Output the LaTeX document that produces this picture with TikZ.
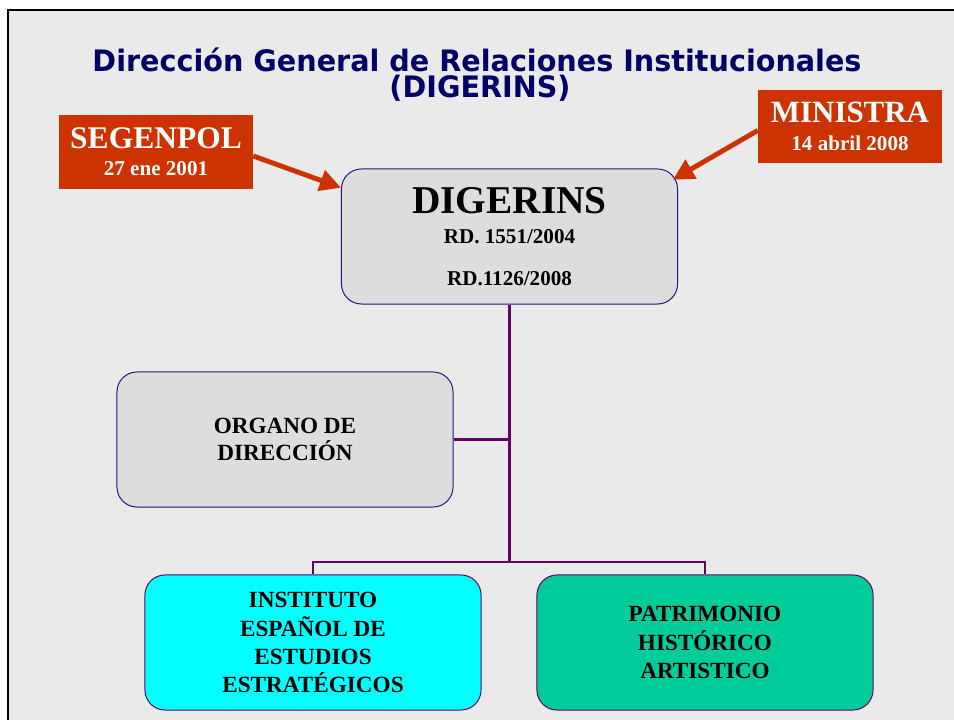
\documentclass[tikz,border=0pt]{standalone}
\usepackage{fontspec}
\setmainfont{Liberation Serif}
\newfontfamily\titlefont[FakeStretch=0.97]{DejaVu Sans}
\usetikzlibrary{positioning,arrows.meta}

\definecolor{slidegray}{HTML}{EAEAEA}
\definecolor{boxgray}{HTML}{DDDDDD}
\definecolor{navy}{HTML}{000066}
\definecolor{edgenavy}{HTML}{1A1A80}
\definecolor{brick}{HTML}{CC3300}
\definecolor{plum}{HTML}{660066}
\definecolor{aqua}{HTML}{00FFFF}
\definecolor{jade}{HTML}{00CC99}

\tikzset{
  unitbox/.style={rectangle, rounded corners=0.5cm, minimum width=8.4cm,
    minimum height=3.375cm, inner sep=0pt, align=center, font=\bfseries},
  graybox/.style={unitbox, fill=boxgray, draw=edgenavy, line width=0.7pt},
  colorbox/.style={unitbox, draw=plum, line width=0.7pt},
  datebox/.style={rectangle, fill=brick, text=white, inner sep=0pt,
    align=center},
  heading/.style={anchor=base, text=navy, inner sep=0pt,
    font=\titlefont\bfseries\fontsize{21}{22}\selectfont},
  conn/.style={plum, line width=2.1pt},
  pointer/.style={brick, line width=3.5pt,
    -{Triangle[length=15pt,width=15pt]}}
}

\begin{document}
\begin{tikzpicture}[x=0.025cm,y=-0.025cm]
\useasboundingbox (0,0) rectangle (954,720);
%slide background
\fill[slidegray] (8,10) rectangle (954,720);
\draw[line width=2.1pt] (8,720) -- (8,10) -- (954,10);

%title
\node[heading] (title) at (477,71.5) {Dirección General de Relaciones Institucionales};
\node[heading] (titlesub) at (480,98) {(DIGERINS)};

%main boxes
\node[graybox, font=\bfseries\fontsize{15}{21.3}\selectfont] (digerins) at (509.5,236.5)
  {{\fontsize{28}{30}\selectfont DIGERINS}\\RD. 1551/2004\\[8.6pt]RD.1126/2008};
\node[graybox, font=\bfseries\fontsize{16.5}{19}\selectfont] (organo) at (285,439.5)
  {ORGANO DE\\DIRECCIÓN};
\node[colorbox, fill=aqua, font=\bfseries\fontsize{16.5}{20}\selectfont] (instituto) at (313,642.5)
  {INSTITUTO\\ESPAÑOL DE\\ESTUDIOS\\ESTRATÉGICOS};
\node[colorbox, fill=jade, font=\bfseries\fontsize{16.5}{20}\selectfont] (patrimonio) at (705,642.5)
  {PATRIMONIO\\HISTÓRICO\\ARTISTICO};

%dates
\node[datebox, minimum width=4.85cm, minimum height=1.85cm,
  font=\bfseries\fontsize{15}{19.2}\selectfont] (segenpol) at (156,152)
  {{\fontsize{22.4}{25}\selectfont SEGENPOL}\\27 ene 2001};
\node[datebox, minimum width=4.6cm, minimum height=1.825cm,
  font=\bfseries\fontsize{15}{20}\selectfont] (ministra) at (850,126.5)
  {{\fontsize{22}{25}\selectfont MINISTRA}\\14 abril 2008};

%connectors
\coordinate (split) at (509.5,562);
\draw[conn] (digerins.south) -- (split);
\draw[conn] (organo.east) -- (organo.east -| digerins.south);
\draw[conn] (instituto.north) |- (split) -| (patrimonio.north);

%arrows
\draw[pointer] ([yshift=-0.1cm]segenpol.east) -- ([yshift=-0.48cm]digerins.north west);
\draw[pointer] ([yshift=-0.1cm]ministra.west) -- ([xshift=-0.13cm,yshift=-0.28cm]digerins.north east);
\end{tikzpicture}
\end{document}
